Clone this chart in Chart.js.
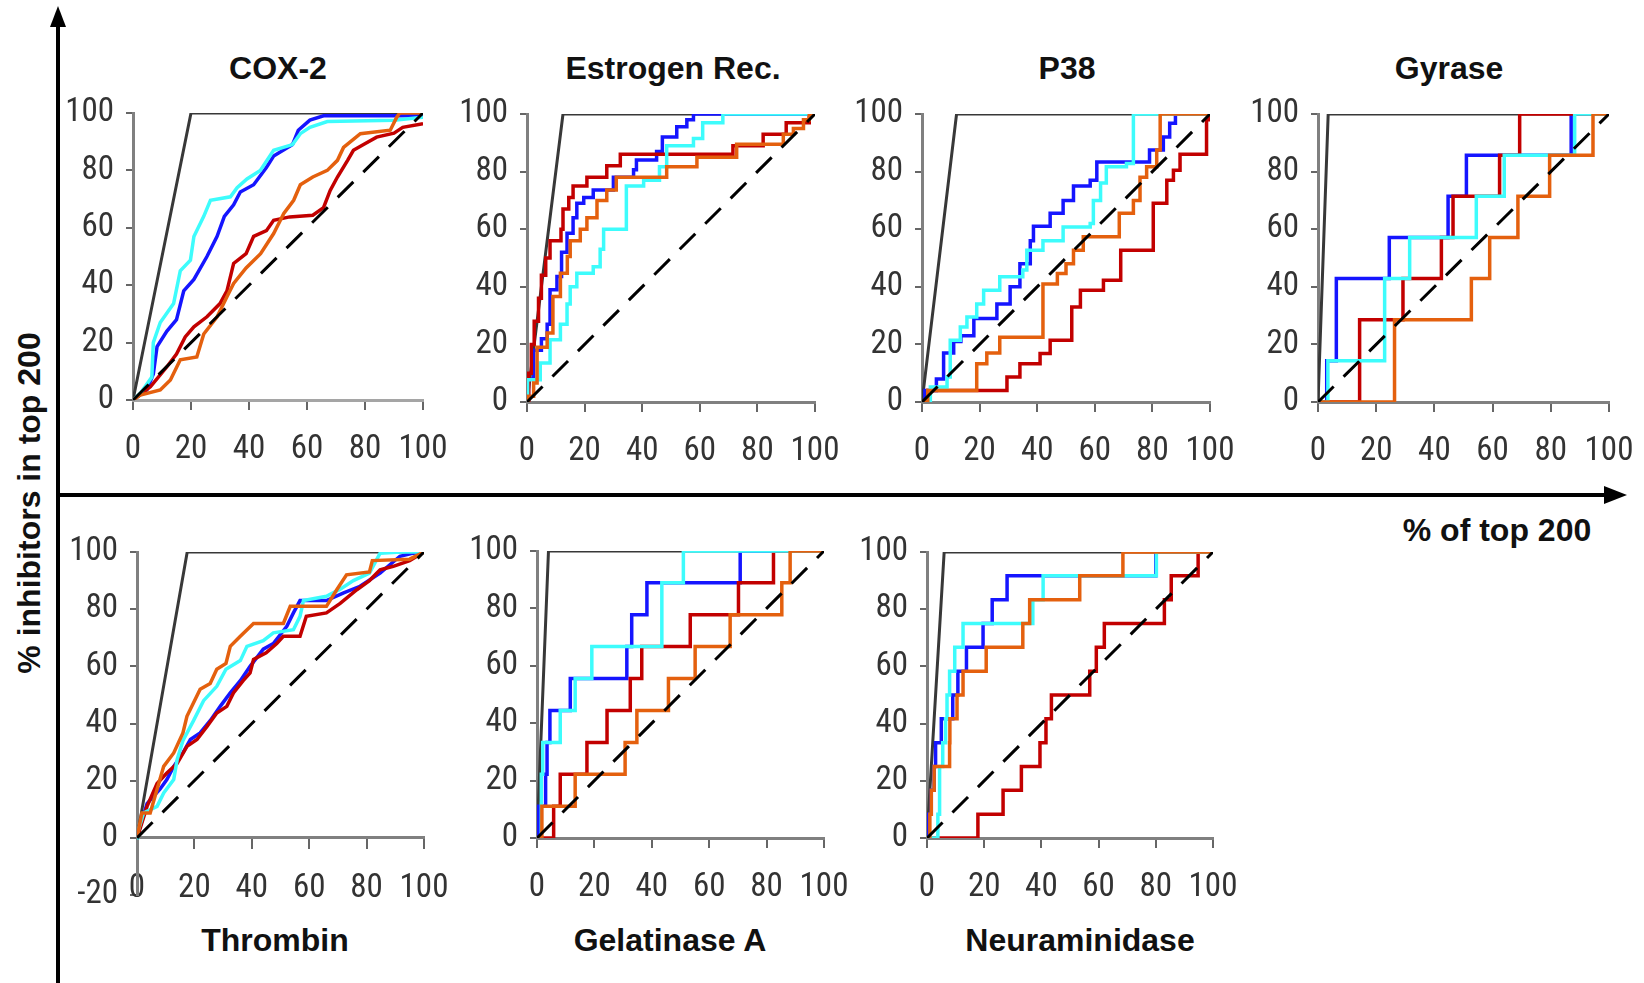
<!DOCTYPE html>
<html>
<head>
<meta charset="utf-8">
<script src="https://cdn.jsdelivr.net/npm/chart.js@4.4.1/dist/chart.umd.min.js"></script>
<style>
  body { margin: 0; background: #fff; width: 1644px; height: 983px; overflow: hidden; position: relative;
         font-family: 'Liberation Sans', Arial, sans-serif; }
  .panel { position: absolute; }
  .label { position: absolute; transform: translate(-50%, -50%); font-weight: bold; font-size: 32px;
           color: #111; white-space: nowrap; }
</style>
</head>
<body>
<svg width="1644" height="983" style="position:absolute;left:0;top:0">
  <line x1="58" y1="983" x2="58" y2="22" stroke="#000" stroke-width="4"/>
  <polygon points="58,6 50,27 66,27" fill="#000"/>
  <line x1="56" y1="495" x2="1606" y2="495" stroke="#000" stroke-width="4"/>
  <polygon points="1627,495 1604,486 1604,504" fill="#000"/>
</svg>
<div class="label" style="left:1497px;top:530px">% of top 200</div>
<div class="label" style="left:29px;top:503px;transform:translate(-50%,-50%) rotate(-90deg)">% inhibitors in top 200</div>

<script>
// ticks of every small plot
const xTicks = [0, 20, 40, 60, 80, 100];
const diagonal = [[0, 0], [100, 100]];

// COX-2
const cox2Ideal = [[0, 0], [20, 100], [100, 100]];
const cox2Blue = [[0,0],[4.8,3.5],[7,9],[8.3,18.6],[11.7,24],[15,28],[17.5,38],[21,42],[25.5,50],[29,57],[31.5,64],[34.7,68],[37,72.5],[41.6,75],[46,81],[48.5,85],[55,89],[57,94],[61,97.5],[65.7,99],[100,99]];
const cox2Cyan = [[0,0],[2.5,2.3],[6.5,8],[7,20],[9.4,27],[14,33.6],[16.3,45],[19.8,48.7],[21,57],[24.4,64],[26.7,69.6],[33.6,70.8],[35.9,74],[39.3,77],[43.9,80],[48.5,87],[55,89],[57.7,92.8],[61,95],[67,97],[90,97.5],[100,98.5]];
const cox2Red = [[0,0],[6,4.6],[11.7,11.6],[15,16],[18,22],[21,25.5],[25.5,29],[30,33.6],[32.4,38],[34.7,47.6],[39,51],[41.6,57],[46,59],[48.5,62.6],[54,63.8],[62,64.4],[65.7,67],[68,73],[70.5,77.7],[74,83.5],[76,87],[79.5,89],[84,91.6],[90,93],[93,95],[100,96.3]];
const cox2Orange = [[0,0],[2.5,1.7],[9.4,3.5],[12.9,7],[16.3,14],[22,15],[24.4,23],[29,29],[32.4,36],[34.7,40.6],[39,46],[44,51],[48.5,58],[52,65],[55.4,69.6],[57.7,75],[62,77.7],[67,80],[70.5,83.5],[72.6,88],[78.4,92.8],[88.7,94],[91,98.6],[92,100],[100,100]];

// Estrogen Rec.
const estIdeal = [[0, 0], [12.5, 100], [100, 100]];
const estBlue = [[0,0],[0.5,8],[2.3,18],[5,22],[7,27],[8,39],[10.4,43.6],[12,52],[13.9,58.6],[16,64],[17.3,69],[19.7,71],[23,73.6],[30,78],[37,80.6],[38,84],[45,87],[47,92],[52,95.6],[55.5,98],[57.8,100],[100,100]];
const estCyan = [[0,0],[0.2,7.7],[4.6,13.5],[8,21.6],[11.6,27],[13.9,34],[15,40],[17.3,44.7],[23,47],[25.4,53],[26.6,60],[34.5,75],[40.5,77],[46,81.7],[48.5,89],[57.8,91.5],[61,97],[68,100],[100,100]];
const estRed = [[0,0],[0.6,10],[1.5,20],[2.5,28],[4,36],[5,44],[6.5,50],[8,56],[11.8,60],[12.5,67],[14.5,71],[16,75],[20.8,78],[27.7,82],[32.4,86],[71.5,89],[82,93],[90,97],[98,100],[100,100]];
const estOrange = [[0,0],[0.5,2],[2.3,6.6],[3.5,19],[7,24],[9,36.6],[11.6,44.7],[14,50.5],[15,56],[18.5,60],[20.8,64],[24.3,70],[27.7,73.6],[31,78],[48.5,81.7],[59,85],[72.8,89.5],[89,93],[92.5,95],[96,98],[98,100],[100,100]];

// P38
const p38Ideal = [[0, 0], [12, 100], [100, 100]];
const p38Blue = [[0,0],[1,4],[5,8],[7.5,17],[11,21],[13.5,23],[18,29],[26,34],[30.6,40],[34,48],[37.6,56],[38.7,61],[44.5,65.5],[49,70],[52.6,75],[58.4,77],[60.7,83.3],[79,87.5],[83.8,92],[86,96.8],[88,100],[100,100]];
const p38Cyan = [[0,0],[2.9,5.2],[8.7,8.7],[9.8,21.4],[13.3,26],[15.6,29.5],[19,34],[21.4,38.8],[27,43.5],[35,45.8],[36.4,52.7],[42,56],[49,60.8],[58.4,62],[59.5,70],[62,76],[64,81.7],[71,82.8],[73.4,100],[100,100]];
const p38Red = [[0,0],[2,4],[29.5,8.7],[34,13.3],[41,16.8],[44.5,21.4],[52,33],[55,38.8],[63,42.3],[69,52.7],[80.3,69],[85,77],[87.3,80.5],[89.6,86],[98.8,98],[99.4,100],[100,100]];
const p38Orange = [[0,0],[2,4],[19,13.3],[22.5,17],[27,22.5],[42,41],[47,44.6],[50,48],[52.6,52.7],[56,57.4],[68.5,65.5],[73.4,70],[75.7,78],[78,81.7],[81.5,87.5],[82.7,100],[100,100]];

// Gyrase
const gyrIdeal = [[0, 0], [3.5, 100], [100, 100]];
const gyrBlue = [[0,0],[3,14.3],[6.3,42.9],[24.5,57.1],[44.7,71.4],[51,85.7],[87,100],[100,100]];
const gyrCyan = [[0,0],[3.4,14.3],[22.9,42.9],[31.5,57.1],[54.4,71.4],[64,85.7],[88.2,100],[100,100]];
const gyrRed = [[0,0],[14.3,28.6],[29.2,42.9],[42.4,57.1],[46.4,71.4],[62.4,85.7],[69.3,100],[100,100]];
const gyrOrange = [[0,0],[26.3,28.6],[52.7,42.9],[59,57.1],[68.7,71.4],[79.6,85.7],[94.5,100],[100,100]];

// Thrombin
const thrIdeal = [[0, 0], [17.5, 100], [100, 100]];
const thrBlue = [[0,0],[0.6,2.3],[3.5,12],[8,17],[10.4,20.4],[12.8,25],[16,29.7],[18.6,34.4],[22,36.7],[25.5,41],[29,46],[32.5,50.7],[36,55],[39.4,60],[44,66],[47.5,68],[52.2,74],[54.5,78.7],[56.8,83],[66,83],[72,85.7],[77.7,88],[84.7,92.6],[91.6,98.5],[96.3,99.6],[100,100]];
const thrCyan = [[0,0],[0.2,1.7],[2.3,8.7],[7,11],[9.3,15.7],[12.8,20.4],[14,27.4],[16,34],[19.7,41],[23.2,48],[27.8,53],[31,59],[36,62],[38.3,67],[44,69],[47.5,71.7],[54.5,72.8],[56.8,77.5],[58,83],[66,84.5],[70.8,87],[75.4,90],[81,92.6],[84.7,99.6],[92,100],[100,100]];
const thrRed = [[0,0],[0.6,1.7],[3.5,11],[7,19],[10.4,22.7],[14,26],[17.4,32],[20.9,34.4],[24.4,39],[27.8,43.7],[31.3,46],[33.6,50.7],[37,55],[39.4,57.7],[40.6,62.4],[45,64.7],[48.7,68],[51,70.5],[56.8,70.5],[59,77.5],[66,78.7],[70.8,82],[76.6,86.8],[81,90],[84.7,93.8],[89.3,95],[95,97],[100,100]];
const thrOrange = [[0,0],[1.7,8.7],[4.6,8.7],[7,17],[9.3,25],[12.8,29.7],[16,36.7],[17.4,42.5],[22,52],[25.5,54],[27.8,59],[31,61],[32.5,67],[36,70.5],[40.6,75],[51,75],[53.4,81],[66,81],[69.6,86.8],[73,92],[81,93],[82,97],[95,97.5],[100,100]];

// Gelatinase A
const gelIdeal = [[0, 0], [4, 100], [100, 100]];
const gelBlue = [[0,0],[0.5,11.1],[3,22.2],[3.5,33.3],[4.5,44.4],[11.6,55.6],[31.3,66.7],[33,77.8],[38.3,88.9],[70.8,100],[100,100]];
const gelCyan = [[0,0],[1.5,22.2],[2,33.3],[8.1,44.4],[13.3,55.6],[19.1,66.7],[43.5,88.9],[51,100],[100,100]];
const gelRed = [[0,0],[5.8,11.1],[8.1,22.2],[17.4,33.3],[24.4,44.4],[32.5,55.6],[36.5,66.7],[53.4,77.8],[70.2,88.9],[82.4,100],[100,100]];
const gelOrange = [[0,0],[1.7,11.1],[13.3,22.2],[30.7,33.3],[34.8,44.4],[45.8,55.6],[55.1,66.7],[67.3,77.8],[85.3,88.9],[88.2,100],[100,100]];

// Neuraminidase
const neuIdeal = [[0, 0], [6, 100], [100, 100]];
const neuBlue = [[0,0],[0.5,8.3],[1.5,16.7],[2.5,25],[3,33.3],[5,41.7],[9,50],[10.8,58.3],[13.8,66.7],[19.6,75],[22.8,83.3],[28,91.7],[80,100],[100,100]];
const neuCyan = [[0,0],[3.8,8.3],[4.4,25],[5.5,33.3],[6.5,41.7],[7,50],[7.9,58.3],[9.7,66.7],[12.6,75],[37,83.3],[40.6,91.7],[80.2,100],[100,100]];
const neuRed = [[0,0],[17.8,8.3],[26.6,16.7],[33,25],[39.5,33.3],[41.6,41.7],[43.5,50],[56.9,58.3],[59.2,66.7],[62,75],[83,83.3],[85.4,91.7],[94.8,100],[100,100]];
const neuOrange = [[0,0],[1,8.3],[1.5,16.7],[2.5,25],[7.9,33.3],[8,41.7],[10.5,50],[12.6,58.3],[20.7,66.7],[33.5,75],[35.9,83.3],[53.4,91.7],[68.5,100],[100,100]];

// layout of the panels (pixel boxes of the plot areas)
const panels = [
  { title: 'COX-2', s: [cox2Ideal, cox2Blue, cox2Cyan, cox2Red, cox2Orange], step: false, x0: 133, x1: 423, yt: 113, yb: 400, ymin: 0, tx: 278, ty: 68 },
  { title: 'Estrogen Rec.', s: [estIdeal, estBlue, estCyan, estRed, estOrange], step: true, x0: 527, x1: 815, yt: 114, yb: 402, ymin: 0, tx: 673, ty: 68 },
  { title: 'P38', s: [p38Ideal, p38Blue, p38Cyan, p38Red, p38Orange], step: true, x0: 922, x1: 1210, yt: 114, yb: 402, ymin: 0, tx: 1067, ty: 68 },
  { title: 'Gyrase', s: [gyrIdeal, gyrBlue, gyrCyan, gyrRed, gyrOrange], step: true, x0: 1318, x1: 1609, yt: 114, yb: 402, ymin: 0, tx: 1449, ty: 68 },
  { title: 'Thrombin', s: [thrIdeal, thrBlue, thrCyan, thrRed, thrOrange], step: false, x0: 137, x1: 424, yt: 552, yb: 895, ymin: -20, tx: 275, ty: 940 },
  { title: 'Gelatinase A', s: [gelIdeal, gelBlue, gelCyan, gelRed, gelOrange], step: true, x0: 537, x1: 824, yt: 551, yb: 838, ymin: 0, tx: 670, ty: 940 },
  { title: 'Neuraminidase', s: [neuIdeal, neuBlue, neuCyan, neuRed, neuOrange], step: true, x0: 927, x1: 1213, yt: 552, yb: 838, ymin: 0, tx: 1080, ty: 940 }
];

// narrow digits like the original: Roboto with its condensed width
const tickFont = { family: "Roboto, 'Liberation Sans', sans-serif", size: 33, weight: 'condensed' };
const YW = 110, PT = 24, PR = 34, XH = 90;

panels.forEach(p => {
  const t = document.createElement('div');
  t.className = 'label';
  t.style.left = p.tx + 'px';
  t.style.top = p.ty + 'px';
  t.innerText = p.title;
  document.body.appendChild(t);

  const w = YW + (p.x1 - p.x0) + PR;
  const h = PT + (p.yb - p.yt) + XH;
  const div = document.createElement('div');
  div.className = 'panel';
  div.style.left = (p.x0 - YW) + 'px';
  div.style.top = (p.yt - PT) + 'px';
  const cv = document.createElement('canvas');
  cv.width = w; cv.height = h;
  cv.style.width = w + 'px'; cv.style.height = h + 'px';
  div.appendChild(cv);
  document.body.appendChild(div);

  const [ideal, blue, cyan, red, orange] = p.s;
  const st = p.step ? 'before' : false;
  const below = p.ymin < 0;

  new Chart(cv.getContext('2d'), {
    type: 'line',
    data: {
      datasets: [
        { data: diagonal, borderColor: '#000', borderWidth: 3, borderDash: [22, 14] },
        { data: orange, borderColor: '#e4600e', borderWidth: 3.5, stepped: st },
        { data: cyan, borderColor: '#3dfcfc', borderWidth: 3.5, stepped: st },
        { data: red, borderColor: '#c20000', borderWidth: 3.5, stepped: st },
        { data: blue, borderColor: '#1515ff', borderWidth: 3.5, stepped: st },
        { data: ideal, borderColor: '#383838', borderWidth: 3 }
      ]
    },
    options: {
      responsive: false,
      animation: false,
      devicePixelRatio: 1,
      layout: { padding: { left: 0, top: PT, right: PR, bottom: below ? XH : 0 } },
      elements: { point: { radius: 0 }, line: { tension: 0 } },
      plugins: { legend: { display: false }, tooltip: { enabled: false } },
      scales: {
        x: {
          type: 'linear', min: 0, max: 100,
          position: below ? { y: 0 } : 'bottom',
          afterBuildTicks: s => { s.ticks = xTicks.map(v => ({ value: v })); },
          ticks: { font: tickFont, color: '#333', padding: below ? 21 : 20, maxRotation: 0, autoSkip: false },
          grid: { drawOnChartArea: false, color: '#666', lineWidth: 2, tickLength: 10 },
          border: { color: p.title === 'COX-2' ? '#a5a5a5' : '#808080', width: 3 },
          afterFit: s => { s.height = below ? 0 : XH; s.paddingLeft = 0; s.paddingRight = 0; }
        },
        y: {
          min: p.ymin, max: 100,
          ticks: { stepSize: 20, font: tickFont, color: '#333', padding: 12 },
          grid: { drawOnChartArea: false, color: '#666', lineWidth: 2, tickLength: 7 },
          border: { color: '#808080', width: 3 },
          afterFit: s => { s.width = YW; s.paddingTop = 0; s.paddingBottom = 0; }
        }
      }
    }
  });
});
</script>
</body>
</html>
